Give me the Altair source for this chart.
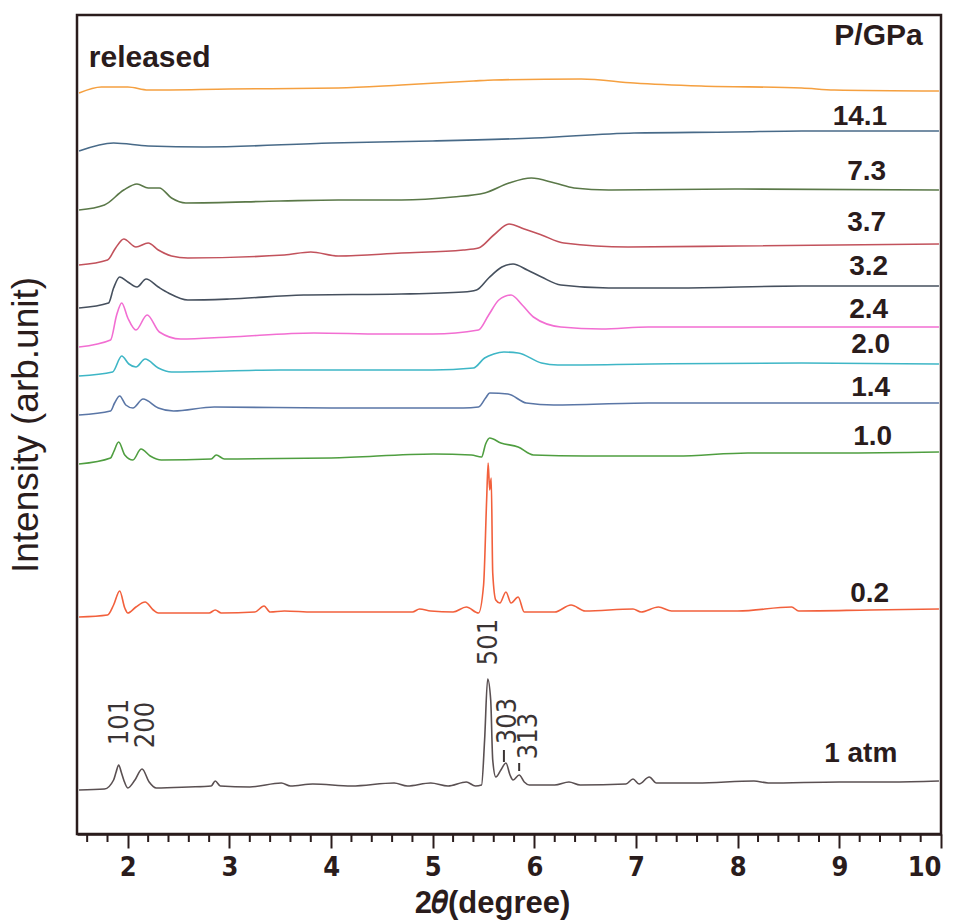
import altair as alt
import pandas as pd

# ---------------- data (2theta in degrees, intensity in arbitrary stacked units) ----------------
x_1atm = [1.52, 1.77, 1.86, 1.885, 1.91, 1.935, 1.96, 2.00, 2.07, 2.14, 2.21, 2.28, 2.6, 2.82, 2.86, 2.91,
          3.2, 3.51, 3.6, 3.82, 4.2, 4.62, 4.75, 4.98, 5.15, 5.33, 5.42, 5.48, 5.51, 5.54, 5.57, 5.59,
          5.62, 5.67, 5.72, 5.76, 5.79, 5.85, 5.9, 5.95, 6.2, 6.34, 6.45, 6.9, 6.97, 7.03, 7.13, 7.2,
          7.6, 8.16, 8.3, 9.0, 9.5, 9.98]
y_1atm = [42, 43, 52, 60, 67, 60, 52, 44, 52, 63, 50, 44, 45, 46, 51, 46,
          45, 49, 46, 48, 46, 49, 46, 49, 46, 50, 46, 47, 92, 153, 132, 72,
          55, 62, 69, 57, 52, 57, 50, 47, 47, 50, 47, 48, 53, 48, 55, 49,
          49, 51, 49, 50, 50, 51]

x_02 = [1.52, 1.8, 1.86, 1.92, 1.97, 2.0, 2.08, 2.17, 2.25, 2.3, 2.8, 2.86, 2.92, 3.25, 3.34, 3.4,
        3.54, 3.82, 4.27, 4.8, 4.87, 4.98, 5.2, 5.33, 5.45, 5.5, 5.53, 5.545, 5.56, 5.575, 5.59, 5.62,
        5.66, 5.72, 5.77, 5.84, 5.9, 6.2, 6.36, 6.5, 6.97, 7.05, 7.22, 7.35, 8.0, 8.53, 8.6, 9.3, 9.98]
y_02 = [215, 217, 227, 241, 224, 219, 225, 230, 222, 219, 219, 222, 219, 220, 226, 220,
        221, 220, 220, 220, 223, 221, 220, 225, 219, 247, 332, 369, 342, 354, 259, 232,
        229, 240, 229, 235, 220, 220, 227, 221, 223, 220, 225, 221, 221, 225, 221, 222, 223]

x_10 = [1.52, 1.83, 1.86, 1.91, 1.97, 2.05, 2.13, 2.22, 2.33, 2.82, 2.87, 2.95, 4.0, 5.01, 5.38, 5.48,
        5.52, 5.56, 5.67, 5.84, 5.99, 6.5, 7.4, 8.1, 9.0, 9.98]
y_10 = [368, 374, 380, 390, 377, 372, 383, 376, 372, 373, 377, 373, 374, 378, 377, 375,
        388, 394, 389, 385, 377, 376, 376, 379, 379, 380]

x_14 = [1.52, 1.83, 1.87, 1.92, 1.98, 2.05, 2.15, 2.3, 2.45, 2.85, 4.0, 5.3, 5.45, 5.52, 5.56, 5.74,
        5.92, 6.19, 7.12, 8.63, 9.98]
y_14 = [417, 421, 429, 436, 427, 424, 433, 424, 421, 425, 424, 424, 425, 434, 439, 438,
        429, 427, 429, 429, 429]

x_20 = [1.52, 1.85, 1.94, 2.01, 2.08, 2.17, 2.3, 2.43, 3.5, 5.0, 5.4, 5.51, 5.6, 5.7, 5.84, 6.07,
        6.23, 7.15, 8.63, 9.98]
y_20 = [456, 460, 476, 468, 465, 473, 464, 460, 462, 462, 464, 474, 478, 480, 479, 469,
        467, 468, 469, 468]

x_24 = [1.52, 1.83, 1.89, 1.94, 2.0, 2.08, 2.19, 2.31, 2.52, 3.0, 3.83, 4.5, 5.0, 5.45, 5.55, 5.65,
        5.77, 5.88, 5.99, 6.26, 6.66, 7.12, 8.63, 9.98]
y_24 = [485, 492, 517, 529, 514, 502, 517, 500, 493, 495, 499, 498, 498, 502, 517, 532,
        537, 527, 515, 505, 503, 505, 505, 505]

x_32 = [1.52, 1.81, 1.86, 1.92, 2.0, 2.09, 2.18, 2.3, 2.4, 2.59, 3.0, 3.73, 4.69, 5.3, 5.43, 5.55,
        5.68, 5.79, 5.93, 6.07, 6.26, 6.73, 7.4, 8.63, 9.98]
y_32 = [524, 529, 544, 555, 550, 545, 553, 545, 539, 532, 533, 537, 538, 540, 542, 554,
        565, 568, 562, 555, 547, 544, 544, 546, 546]

x_37 = [1.52, 1.8, 1.88, 1.96, 2.08, 2.2, 2.3, 2.43, 2.59, 3.54, 3.8, 4.07, 4.69, 5.3, 5.45, 5.6,
        5.75, 5.9, 6.07, 6.29, 6.92, 8.0, 9.98]
y_37 = [567, 572, 584, 593, 585, 589, 582, 576, 574, 577, 580, 576, 579, 582, 584, 597,
        608, 603, 597, 589, 585, 586, 588]

x_73 = [1.52, 1.77, 1.96, 2.09, 2.2, 2.31, 2.43, 2.57, 3.5, 4.07, 4.69, 5.2, 5.51, 5.75, 5.97, 6.2,
        6.39, 6.73, 8.0, 9.98]
y_73 = [622, 627, 642, 648, 644, 644, 634, 629, 631, 632, 632, 635, 639, 649, 654, 649,
        644, 642, 643, 642]

x_141 = [1.52, 1.86, 2.2, 2.75, 4.0, 5.0, 6.0, 6.98, 7.97, 8.63, 9.98]
y_141 = [681, 689, 686, 685, 689, 691, 694, 699, 700, 701, 701]

x_rel = [1.52, 1.74, 2.0, 2.2, 3.0, 4.07, 4.69, 5.4, 5.6, 6.46, 6.98, 7.64, 8.63, 8.95, 9.98]
y_rel = [739, 745, 745, 742, 743, 744, 747, 751, 752, 753, 749, 746, 744, 742, 741]

series_names = ["1 atm", "0.2", "1.0", "1.4", "2.0", "2.4", "3.2", "3.7", "7.3", "14.1", "released"]
series_x = [x_1atm, x_02, x_10, x_14, x_20, x_24, x_32, x_37, x_73, x_141, x_rel]
series_y = [y_1atm, y_02, y_10, y_14, y_20, y_24, y_32, y_37, y_73, y_141, y_rel]
series_colors = ["#5a5052", "#f2603c", "#4f9e40", "#5a76a6", "#3eb6c6", "#f26ed2",
                 "#46505e", "#c2525c", "#5a7848", "#486a88", "#f5a040"]

# pressure labels (right side)
label_text = ["14.1", "7.3", "3.7", "3.2", "2.4", "2.0", "1.4", "1.0", "0.2", "1 atm"]
label_x = [9.47, 9.46, 9.46, 9.48, 9.48, 9.50, 9.50, 9.52, 9.49, 9.57]
label_y = [715, 660, 609, 565, 522, 487, 444, 395, 238, 78]

# header labels
head_text = ["P/GPa", "released"]
head_x = [9.82, 1.616]
head_y = [796, 774]
head_align = ["right", "left"]

# Miller index labels on the 1 atm pattern
hkl_text = ["101", "200", "501", "303", "313"]
hkl_x = [1.92, 2.18, 5.55, 5.74, 5.95]
hkl_y = [110, 107, 190, 111, 96]

# short marker lines for 303 and 313
mark_x = [5.70, 5.85]
mark_y = [70, 61]
mark_y2 = [82, 69]

major_ticks = [2, 3, 4, 5, 6, 7, 8, 9, 10]
minor_ticks = [1.6, 1.8, 2.2, 2.4, 2.6, 2.8, 3.2, 3.4, 3.6, 3.8, 4.2, 4.4, 4.6, 4.8,
               5.2, 5.4, 5.6, 5.8, 6.2, 6.4, 6.6, 6.8, 7.2, 7.4, 7.6, 7.8,
               8.2, 8.4, 8.6, 8.8, 9.2, 9.4, 9.6, 9.8]

# ---------------- tables ----------------
rows = []
for name, xs, ys in zip(series_names, series_x, series_y):
    for xv, yv in zip(xs, ys):
        rows.append({"theta": xv, "intensity": yv, "series": name})
curves = pd.DataFrame(rows)
labels = pd.DataFrame({"text": label_text, "x": label_x, "y": label_y})
heads = pd.DataFrame({"text": head_text, "x": head_x, "y": head_y, "align": head_align})
hkl = pd.DataFrame({"text": hkl_text, "x": hkl_x, "y": hkl_y})
marks = pd.DataFrame({"x": mark_x, "y": mark_y, "y2": mark_y2})
minor = pd.DataFrame({"x": minor_ticks})

ink = "#2a1c1c"
PLOT_H = 819
xscale = alt.Scale(domain=[1.5, 10], nice=False, zero=False)
yscale = alt.Scale(domain=[-2, 817], nice=False, zero=False)

x_axis = alt.Axis(
    values=major_ticks, format="d",
    tickSize=14, tickWidth=2, tickColor=ink, domainColor=ink, domainWidth=2.5,
    labelFont="Liberation Sans Narrow, DejaVu Sans Condensed, Liberation Sans",
    labelFontSize=27, labelFontWeight="bold", labelColor=ink, labelPadding=6,
    grid=False,
    title="2𝜃(degree)", titleFont="Liberation Sans, Arial, sans-serif", titleFontSize=31,
    titleFontWeight="bold", titleColor=ink, titlePadding=8, titleX=415,
)
y_axis = alt.Axis(
    labels=False, ticks=False, domain=False, grid=False,
    title="Intensity (arb.unit)", titleFont="Liberation Sans, Arial, sans-serif",
    titleFontSize=37, titleFontWeight="normal", titleColor=ink, titlePadding=32,
)

lines = alt.Chart(curves).mark_line(strokeWidth=1.6, interpolate="monotone").encode(
    x=alt.X("theta:Q", scale=xscale, axis=x_axis),
    y=alt.Y("intensity:Q", scale=yscale, axis=y_axis),
    color=alt.Color("series:N", scale=alt.Scale(domain=series_names, range=series_colors), legend=None),
)

minor_t = alt.Chart(minor).mark_rule(strokeWidth=2, color=ink).encode(
    x=alt.X("x:Q", scale=xscale), y=alt.value(PLOT_H), y2=alt.value(PLOT_H + 8)
)

lab = alt.Chart(labels).mark_text(
    align="right", baseline="middle", font="Liberation Sans, Arial, sans-serif",
    fontSize=28, fontWeight="bold", color=ink,
).encode(x=alt.X("x:Q", scale=xscale), y=alt.Y("y:Q", scale=yscale), text="text:N")

head_r = alt.Chart(heads[heads["align"] == "right"]).mark_text(
    align="right", baseline="middle", font="Liberation Sans, Arial, sans-serif",
    fontSize=30, fontWeight="bold", color=ink,
).encode(x=alt.X("x:Q", scale=xscale), y=alt.Y("y:Q", scale=yscale), text="text:N")

head_l = alt.Chart(heads[heads["align"] == "left"]).mark_text(
    align="left", baseline="middle", font="Liberation Sans, Arial, sans-serif",
    fontSize=30, fontWeight="bold", color=ink,
).encode(x=alt.X("x:Q", scale=xscale), y=alt.Y("y:Q", scale=yscale), text="text:N")

hkl_t = alt.Chart(hkl).mark_text(
    align="center", baseline="middle", angle=270,
    font="Liberation Sans Narrow, DejaVu Sans Condensed, Liberation Sans",
    fontSize=27, color="#3a3434",
).encode(x=alt.X("x:Q", scale=xscale), y=alt.Y("y:Q", scale=yscale), text="text:N")

mk = alt.Chart(marks).mark_rule(strokeWidth=2, color="#3a3434").encode(
    x=alt.X("x:Q", scale=xscale), y=alt.Y("y:Q", scale=yscale), y2="y2:Q"
)

chart = alt.layer(lines, minor_t, mk, lab, head_r, head_l, hkl_t).properties(
    width=864, height=PLOT_H,
    padding={"left": 77, "top": 15, "right": 18, "bottom": 88},
    autosize=alt.AutoSizeParams(type="none"),
    background="white",
).configure_view(stroke=ink, strokeWidth=2.5)

chart.save("out.html", embed_options={"renderer": "svg", "actions": False})
